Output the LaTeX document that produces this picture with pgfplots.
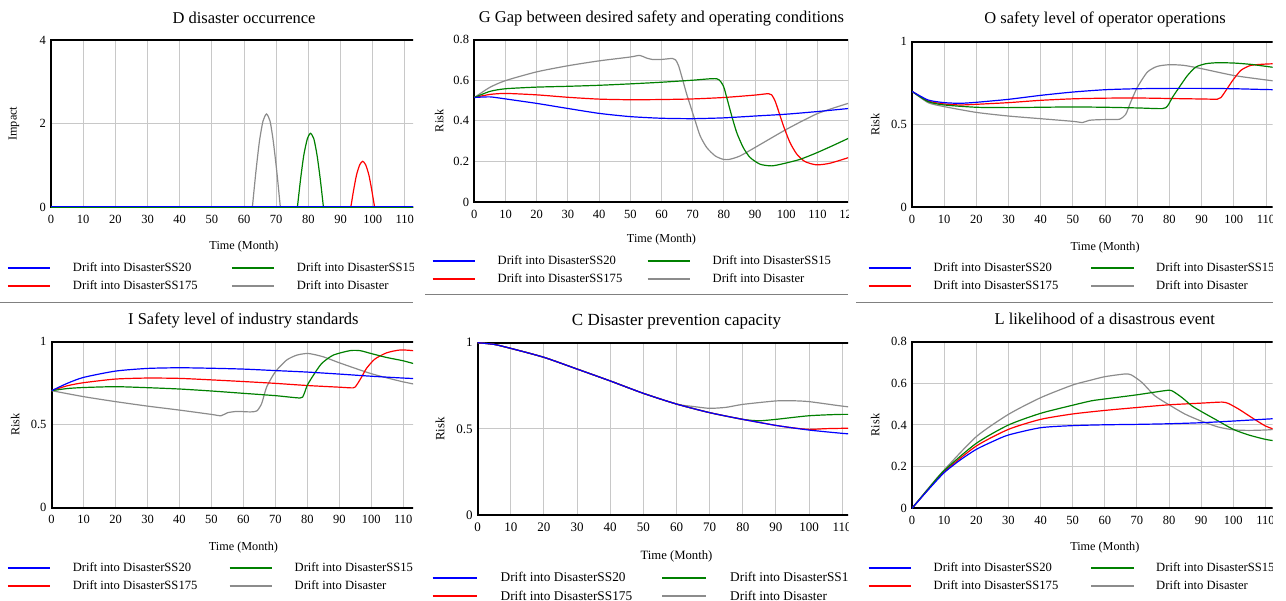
\documentclass[border=0pt]{standalone}
\usepackage{fontspec}
\setmainfont{Liberation Serif}
\usepackage{pgfplots}
\pgfplotsset{compat=1.18}
\definecolor{cblue}{RGB}{0,0,255}
\definecolor{cred}{RGB}{255,0,0}
\definecolor{cgreen}{RGB}{0,128,0}
\definecolor{cgray}{RGB}{140,140,140}
\definecolor{gridc}{RGB}{200,200,200}
\definecolor{sepc}{RGB}{128,128,128}
\newcommand\fs[1]{\fontsize{#1bp}{#1bp}\selectfont}
\newcommand\legendset{%
  \addlegendimage{cblue}\addlegendentry{Drift into DisasterSS20}
  \addlegendimage{cgreen}\addlegendentry{Drift into DisasterSS15}
  \addlegendimage{cred}\addlegendentry{Drift into DisasterSS175}
  \addlegendimage{cgray}\addlegendentry{Drift into Disaster}}
\pgfplotsset{
  panel/.style={
    scale only axis, anchor=south west, xmin=0, xmax=120, xtick={0,10,...,110},
    grid=major, grid style={line width=1bp, gridc},
    axis line style={line width=2bp},
    major tick length=0pt, tick style={draw=none},
    /pgf/number format/assume math mode=true,
    ticklabel style={font=\fs{12.5}},
    xticklabel style={anchor=north, inner sep=0pt, yshift=-7.5bp},
    yticklabel style={anchor=east, inner sep=0pt, xshift=-5bp},
    title style={font=\fs{16.5}, anchor=base, yshift=-6pt},
    xlabel={Time (Month)},
    label style={font=\fs{12.2}},
    xlabel style={anchor=base},
    ylabel style={anchor=center},
    legend columns=2, legend cell align=left,
    legend image code/.code={\draw[##1, line width=2bp] (0bp,0bp) -- (42.5bp,0bp);},
    legend style={anchor=north west, draw=none, fill=none, inner sep=0pt, outer sep=0pt,
      font=\fs{12.6}, nodes={inner sep=0pt, text height=8bp, text depth=0pt}, row sep=10bp,
      /tikz/every odd column/.style={column sep=21.5bp}},
    every axis plot/.append style={line width=1.2bp, smooth, tension=0.4, forget plot},
  },
}
\begin{document}
\begin{tikzpicture}
\path[use as bounding box] (0bp,0bp) rectangle (1286bp,601bp);
\draw[line width=1bp, sepc] (425bp,306bp) -- (848bp,306bp);
\draw[line width=1bp, sepc] (0bp,298.3bp) -- (413bp,298.3bp);
\draw[line width=1bp, sepc] (856bp,298.3bp) -- (1272.7bp,298.3bp);

% ---------- Panel 1: D disaster occurrence
\begin{scope}
\clip (0bp,304bp) rectangle (413bp,601bp);
\begin{axis}[panel, at={(51bp,393.7bp)}, width=386bp, height=167.3bp,
  ymin=0, ymax=4, ytick={0,2,4},
  title={D disaster occurrence}, title style={at={([yshift=16.7bp]axis description cs:0.5,1)}},
  xlabel style={at={([yshift=-42.5bp]axis description cs:0.5,0)}},
  ylabel={Impact}, ylabel style={at={([xshift=-37bp]axis description cs:0,0.5)}},
  legend style={at={([xshift=-44bp,yshift=-56.4bp]axis description cs:0,0)},
    /tikz/every even column/.style={column sep=33.4bp}}]
\legendset
\addplot[cgray] coordinates {(0,0) (120,0)};
\addplot[cgray] coordinates {(62.6,0) (63.7,0.85) (64.8,1.58) (65.9,2.06) (67.0,2.23) (68.1,2.06) (69.1,1.58) (70.2,0.85) (71.3,0)};
\addplot[cred] coordinates {(0,0) (120,0)};
\addplot[cred] coordinates {(93.2,0) (94.1,0.42) (95.0,0.78) (96.0,1.02) (96.9,1.10) (97.8,1.02) (98.8,0.78) (99.7,0.42) (100.6,0)};
\addplot[cgreen] coordinates {(0,0) (120,0)};
\addplot[cgreen] coordinates {(76.6,0) (77.6,0.68) (78.6,1.25) (79.7,1.64) (80.65,1.77) (81.7,1.64) (82.7,1.25) (83.7,0.68) (84.7,0)};
\addplot[cblue] coordinates {(0,0.01) (120,0.01)};
\end{axis}
\end{scope}

% ---------- Panel 2: G Gap
\begin{scope}
\clip (425bp,304bp) rectangle (848bp,601bp);
\begin{axis}[panel, at={(474.3bp,398.7bp)}, width=374.4bp, height=162.8bp,
  xtick={0,10,...,120},
  ymin=0, ymax=0.8, ytick={0,0.2,0.4,0.6,0.8},
  title={G Gap between desired safety and operating conditions}, title style={at={([yshift=16.8bp]axis description cs:0.5,1)}},
  xlabel style={at={([yshift=-40.4bp]axis description cs:0.5,0)}},
  ylabel={Risk}, ylabel style={at={([xshift=-35bp]axis description cs:0,0.5)}},
  legend style={at={([xshift=-42.6bp,yshift=-54.4bp]axis description cs:0,0)},
    /tikz/every even column/.style={column sep=24.4bp}}]
\legendset
\addplot[cgray] coordinates {(0,0.515) (5,0.565) (10,0.598) (20,0.641) (30,0.671) (40,0.695) (50,0.714) (53,0.722) (55,0.71) (57,0.702) (60,0.702) (63.5,0.707) (64.5,0.700) (65.5,0.67) (67,0.59) (68,0.535) (69.1,0.482) (70.7,0.405) (72.4,0.326) (74.5,0.269) (77.2,0.228) (79.8,0.211) (81.8,0.211) (85.2,0.228) (90.5,0.274) (100.1,0.359) (110,0.436) (120,0.487)};
\addplot[cred] coordinates {(0,0.515) (5,0.530) (10,0.535) (20,0.528) (30,0.516) (40,0.507) (50,0.504) (60,0.505) (70,0.508) (80,0.515) (90,0.527) (94.3,0.534) (95.3,0.528) (96.4,0.498) (97.5,0.449) (99.1,0.375) (101.2,0.293) (103.4,0.236) (106,0.2) (109.7,0.184) (114,0.192) (120,0.220)};
\addplot[cgreen] coordinates {(0,0.515) (5,0.545) (10,0.558) (20,0.566) (30,0.570) (40,0.575) (50,0.582) (60,0.590) (70,0.600) (77.7,0.607) (79.8,0.572) (80.9,0.515) (82.5,0.425) (84.1,0.343) (86.2,0.269) (88.4,0.220) (91.6,0.187) (95.3,0.179) (99.1,0.190) (104.4,0.211) (109.7,0.243) (115.1,0.280) (120,0.315)};
\addplot[cblue] coordinates {(0,0.515) (5,0.518) (10,0.508) (20,0.486) (30,0.461) (40,0.437) (50,0.421) (60,0.413) (70,0.411) (80,0.415) (90,0.424) (100,0.433) (110,0.446) (120,0.461)};
\end{axis}
\end{scope}

% ---------- Panel 3: O safety level of operator operations
\begin{scope}
\clip (856bp,304bp) rectangle (1272.7bp,601bp);
\begin{axis}[panel, at={(912bp,393.7bp)}, width=386.2bp, height=165.6bp,
  ymin=0, ymax=1, ytick={0,0.5,1},
  title={O safety level of operator operations}, title style={at={([yshift=18.4bp]axis description cs:0.5,1)}},
  xlabel style={at={([yshift=-43.4bp]axis description cs:0.5,0)}},
  ylabel={Risk}, ylabel style={at={([xshift=-36.7bp]axis description cs:0,0.5)}},
  legend style={at={([xshift=-44.3bp,yshift=-56.4bp]axis description cs:0,0)},
    /tikz/every even column/.style={column sep=31.9bp}}]
\legendset
\addplot[cgray] coordinates {(0,0.70) (5,0.632) (10,0.608) (20,0.573) (30,0.551) (40,0.535) (50,0.519) (53,0.512) (55,0.525) (58,0.529) (61.7,0.530) (64.5,0.532) (66.4,0.561) (67.9,0.633) (70,0.724) (73.1,0.816) (76.2,0.851) (80,0.861) (84.5,0.857) (90,0.837) (100,0.796) (110,0.769) (120,0.745)};
\addplot[cred] coordinates {(0,0.70) (5,0.642) (10,0.624) (15,0.618) (20,0.622) (30,0.632) (40,0.646) (50,0.655) (60,0.659) (70,0.660) (80,0.657) (90,0.654) (94.9,0.653) (96,0.663) (97.5,0.704) (99.6,0.765) (102.2,0.827) (105.3,0.857) (110,0.865) (115,0.868) (120,0.867)};
\addplot[cgreen] coordinates {(0,0.70) (5,0.638) (10,0.618) (20,0.604) (30,0.602) (40,0.604) (50,0.606) (60,0.604) (70,0.600) (77.8,0.596) (79.4,0.612) (80.9,0.663) (83,0.724) (85.6,0.796) (88.2,0.847) (91.3,0.867) (94.9,0.873) (100.1,0.871) (105.3,0.863) (110,0.851) (115,0.838) (120,0.822)};
\addplot[cblue] coordinates {(0,0.70) (5,0.648) (10,0.632) (15,0.628) (20,0.634) (30,0.652) (40,0.676) (50,0.696) (60,0.710) (70,0.716) (80,0.718) (90,0.718) (100,0.716) (110,0.711) (120,0.708)};
\end{axis}
\end{scope}

% ---------- Panel 4: I Safety level of industry standards
\begin{scope}
\clip (0bp,0bp) rectangle (413bp,297bp);
\begin{axis}[panel, at={(51.6bp,93.3bp)}, width=383.6bp, height=166bp,
  ymin=0, ymax=1, ytick={0,0.5,1},
  title={I Safety level of industry standards}, title style={at={([yshift=16.7bp]axis description cs:0.5,1)}},
  xlabel style={at={([yshift=-42.3bp]axis description cs:0.5,0)}},
  ylabel={Risk}, ylabel style={at={([xshift=-36.5bp]axis description cs:0,0.5)}},
  legend style={at={([xshift=-44.8bp,yshift=-56bp]axis description cs:0,0)},
    /tikz/every even column/.style={column sep=31.3bp}}]
\legendset
\addplot[cgray] coordinates {(0,0.705) (10,0.669) (20,0.639) (30,0.612) (40,0.588) (50,0.562) (53,0.554) (55,0.572) (58,0.580) (62.1,0.577) (64.2,0.583) (65.7,0.627) (67.3,0.728) (70,0.819) (73.5,0.889) (76.7,0.919) (80.3,0.929) (85,0.909) (90,0.873) (99.9,0.808) (110,0.758) (120,0.72)};
\addplot[cred] coordinates {(0,0.705) (5,0.735) (10,0.753) (20,0.775) (30,0.781) (40,0.779) (50,0.770) (60,0.760) (70,0.749) (80,0.736) (90,0.726) (94.4,0.722) (95.4,0.738) (97,0.788) (98.5,0.839) (101.1,0.895) (104.8,0.933) (109,0.950) (113.1,0.946) (120,0.93)};
\addplot[cgreen] coordinates {(0,0.705) (5,0.718) (10,0.724) (20,0.729) (30,0.723) (40,0.715) (50,0.703) (60,0.689) (70,0.675) (77.7,0.661) (78.8,0.677) (80,0.738) (81.9,0.798) (84.5,0.869) (88.1,0.919) (93.3,0.946) (96.5,0.946) (99.9,0.929) (104.8,0.905) (110,0.885) (113.1,0.869) (120,0.84)};
\addplot[cblue] coordinates {(0,0.705) (5,0.75) (10,0.785) (20,0.823) (30,0.839) (40,0.843) (50,0.840) (60,0.835) (70,0.826) (80,0.817) (90,0.805) (100,0.792) (110,0.781) (120,0.772)};
\end{axis}
\end{scope}

% ---------- Panel 5: C Disaster prevention capacity
\begin{scope}
\clip (425bp,0bp) rectangle (848bp,297bp);
\begin{axis}[panel, at={(477.7bp,86bp)}, width=397.6bp, height=172.3bp,
  ymin=0, ymax=1, ytick={0,0.5,1},
  ticklabel style={font=\fs{13}},
  title={C Disaster prevention capacity}, title style={font=\fs{17}, at={([yshift=17bp]axis description cs:0.5,1)}},
  label style={font=\fs{12.7}},
  xlabel style={at={([yshift=-44bp]axis description cs:0.5,0)}},
  ylabel={Risk}, ylabel style={at={([xshift=-37.7bp]axis description cs:0,0.5)}},
  legend image code/.code={\draw[#1, line width=2bp] (0bp,0bp) -- (44bp,0bp);},
  legend style={at={([xshift=-46bp,yshift=-58.5bp]axis description cs:0,0)}, font=\fs{13.3},
    nodes={text height=8.4bp}, row sep=9.9bp,
    /tikz/every odd column/.style={column sep=23bp},
    /tikz/every even column/.style={column sep=29bp}}]
\legendset
\addplot[cgray] coordinates {(0,1.0) (5,0.99) (10,0.967) (20,0.915) (30,0.847) (40,0.778) (50,0.706) (60,0.644) (65,0.630) (70,0.619) (75,0.625) (80,0.642) (90,0.662) (95,0.663) (100,0.658) (110,0.632) (120,0.61)};
\addplot[cgreen] coordinates {(0,1.0) (5,0.99) (10,0.967) (20,0.915) (30,0.847) (40,0.778) (50,0.706) (60,0.644) (70,0.594) (80,0.555) (85,0.547) (90,0.555) (100,0.576) (110,0.584) (120,0.582)};
\addplot[cred] coordinates {(0,1.0) (5,0.99) (10,0.967) (20,0.915) (30,0.847) (40,0.778) (50,0.706) (60,0.644) (70,0.594) (80,0.555) (90,0.520) (95,0.506) (100,0.497) (105,0.501) (110,0.503) (120,0.505)};
\addplot[cblue] coordinates {(0,1.0) (5,0.99) (10,0.967) (20,0.915) (30,0.847) (40,0.778) (50,0.706) (60,0.644) (70,0.594) (80,0.555) (90,0.520) (100,0.493) (110,0.474) (120,0.458)};
\end{axis}
\end{scope}

% ---------- Panel 6: L likelihood of a disastrous event
\begin{scope}
\clip (856bp,0bp) rectangle (1272.7bp,297bp);
\begin{axis}[panel, at={(912bp,92.7bp)}, width=385.6bp, height=166.6bp,
  ymin=0, ymax=0.8, ytick={0,0.2,0.4,0.6,0.8},
  title={L likelihood of a disastrous event}, title style={at={([yshift=16.7bp]axis description cs:0.5,1)}},
  xlabel style={at={([yshift=-42.4bp]axis description cs:0.5,0)}},
  ylabel={Risk}, ylabel style={at={([xshift=-36.7bp]axis description cs:0,0.5)}},
  legend style={at={([xshift=-44.3bp,yshift=-55.4bp]axis description cs:0,0)},
    /tikz/every even column/.style={column sep=31.9bp}}]
\legendset
\addplot[cgray] coordinates {(0,0) (5,0.095) (10,0.184) (20,0.344) (30,0.451) (40,0.531) (50,0.592) (55.8,0.616) (60,0.632) (66.25,0.645) (68.3,0.640) (71.5,0.605) (75.6,0.540) (80,0.497) (85,0.452) (90,0.419) (95.4,0.390) (100,0.377) (104.8,0.374) (110,0.376) (112.9,0.379) (120,0.388)};
\addplot[cred] coordinates {(0,0) (5,0.09) (10,0.176) (20,0.299) (30,0.379) (40,0.427) (50,0.453) (60,0.470) (70,0.484) (80,0.497) (90,0.505) (96.5,0.510) (98.5,0.503) (101.7,0.476) (105.8,0.435) (110,0.395) (112.9,0.379) (120,0.345)};
\addplot[cgreen] coordinates {(0,0) (5,0.092) (10,0.181) (20,0.312) (30,0.40) (40,0.456) (50,0.495) (55.8,0.516) (60,0.525) (70,0.545) (78.75,0.565) (80.8,0.565) (84,0.532) (87.1,0.492) (90,0.465) (94.4,0.427) (100,0.379) (104.8,0.352) (110,0.331) (112.9,0.324) (120,0.31)};
\addplot[cblue] coordinates {(0,0) (5,0.088) (10,0.171) (15,0.232) (20,0.283) (25,0.32) (30,0.352) (40,0.387) (50,0.397) (60,0.401) (70,0.403) (80,0.406) (90,0.411) (100,0.419) (110,0.428) (120,0.437)};
\end{axis}
\end{scope}
\end{tikzpicture}
\end{document}
